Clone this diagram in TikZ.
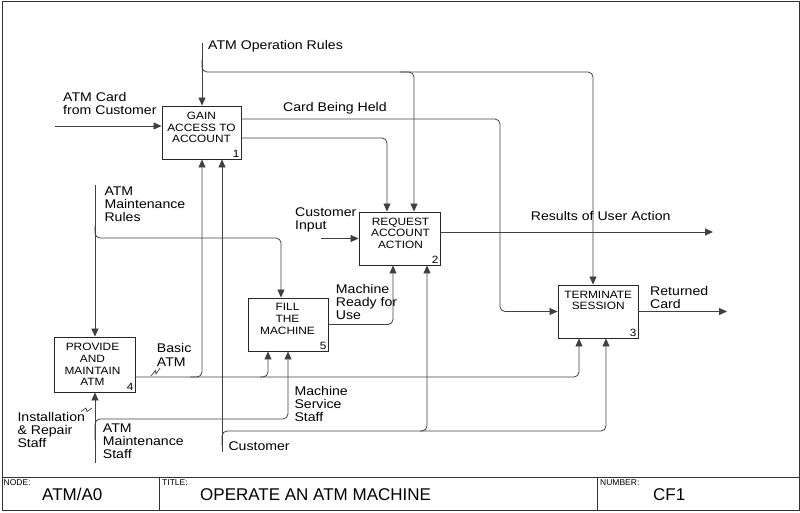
\documentclass[tikz,border=0pt]{standalone}
\usepackage{fontspec}
\setmainfont{Liberation Sans}[FakeStretch=1.12]
\newfontfamily\tbfont{Liberation Sans}
\usetikzlibrary{arrows.meta}
\begin{document}
\begin{tikzpicture}[x=1pt,y=-1pt,
 line/.style={draw=black!75, line width=0.8pt, rounded corners=5pt},
 arr/.style={line, -{Triangle[length=8pt,width=7pt]}},
 squig/.style={draw=black!75, line width=0.7pt},
 proc/.style={draw=black!85, line width=0.9pt, inner sep=0pt},
 boxtext/.style={font=\fontsize{10.6}{11.7}\selectfont, align=center, inner sep=0pt, anchor=north},
 numtext/.style={font=\fontsize{10.5}{12}\selectfont, inner sep=1.8pt, anchor=south east},
 lbl/.style={font=\fontsize{12.6}{13.2}\selectfont, align=left, inner sep=0pt, anchor=north west},
 lbl1/.style={font=\fontsize{12.6}{13.2}\selectfont, inner sep=0pt, anchor=base west},
 tbsmall/.style={font=\tbfont\fontsize{8.5}{9}\selectfont, inner sep=0pt, anchor=north west},
 tbbig/.style={font=\tbfont\fontsize{17}{18}\selectfont, inner sep=0pt, anchor=base west}]
\useasboundingbox (0,0) rectangle (800,512);
% frame and title block
\draw[black!80, line width=1pt] (2,1) rectangle (799,510);
\draw[black!80, line width=1pt] (2,477) -- (799,477);
\draw[black!80, line width=1pt] (159,477) -- (159,510);
\draw[black!80, line width=1pt] (597,477) -- (597,510);
\node[tbsmall] (tnode) at (3.5,479) {NODE:};
\node[tbbig] (tnodev) at (42,500) {ATM/A0};
\node[tbsmall] (ttitle) at (162,479) {TITLE:};
\node[tbbig] (ttitlev) at (200,500) {OPERATE AN ATM MACHINE};
\node[tbsmall] (tnum) at (600,479) {NUMBER:};
\node[tbbig] (tnumv) at (653,500) {CF1};

% activity boxes
\node[proc, minimum width=79pt, minimum height=53pt] (b1) at (201.5,132.5) {};
\node[proc, minimum width=81pt, minimum height=53pt] (b2) at (399.5,238.5) {};
\node[proc, minimum width=80pt, minimum height=53pt] (b3) at (598,311.5) {};
\node[proc, minimum width=81pt, minimum height=55pt] (b4) at (94.5,364.5) {};
\node[proc, minimum width=80pt, minimum height=53pt] (b5) at (288,324.5) {};
\node[boxtext] (b1t) at (201.5,111.7) {GAIN\\ACCESS TO\\ACCOUNT};
\node[boxtext] (b2t) at (400.5,217.4) {REQUEST\\ACCOUNT\\ACTION};
\node[boxtext] (b3t) at (598.2,290.7) {TERMINATE\\SESSION};
\node[boxtext] (b4t) at (92.5,343.1) {PROVIDE\\AND\\MAINTAIN\\ATM};
\node[boxtext] (b5t) at (287.5,303.1) {FILL\\THE\\MACHINE};
\node[numtext] (b1n) at (b1.south east) {1};
\node[numtext] (b2n) at (b2.south east) {2};
\node[numtext] (b3n) at (b3.south east) {3};
\node[numtext] (b4n) at (b4.south east) {4};
\node[numtext] (b5n) at (b5.south east) {5};

% free ends
\coordinate (opr) at (202,43);
\coordinate (cardin) at (55,126);
\coordinate (cin) at (321,238.5);
\coordinate (res) at (713,232);
\coordinate (ret) at (727,311.5);
\coordinate (mr) at (95,185);
\coordinate (cust) at (222,452);
\coordinate (ms) at (95,463);

% ATM Operation Rules
\draw[arr] (opr) -- (opr |- b1.north);
\draw[arr] (202,60) |- (593,72) -- (b3.north -| 593,0);
\draw[arr] (400,72) -| (b2.north -| 414,0);
% ATM Card from Customer
\draw[arr] (cardin) -- (cardin -| b1.west);
% Card Being Held
\draw[arr] (b1.east |- 0,119) -| (500,311.5) -- (b3.west);
% GAIN -> REQUEST
\draw[arr] (b1.east |- 0,138) -| (b2.north -| 387,0);
% Customer Input
\draw[arr] (cin) -- (cin -| b2.west);
% Results of User Action
\draw[arr] (b2.east |- res) -- (res);
% Returned Card
\draw[arr] (b3.east) -- (ret);
% ATM Maintenance Rules
\draw[arr] (mr) -- (mr |- b4.north);
\draw[arr] (95,226) |- (281,238) -- (b5.north -| 281,0);
% Machine Ready for Use
\draw[arr] (b5.east) -| (b2.south -| 393,0);
% Basic ATM
\draw[arr] (b4.east |- 0,377) -| (b1.south -| 202,0);
\draw[arr] (190,377) -| (b5.south -| 268,0);
\draw[arr] (260,377) -| (b3.south -| 579,0);
% Customer
\draw[arr] (cust) -- (cust |- b1.south);
\draw[arr] (222,445) |- (427,431) -- (b2.south -| 427,0);
\draw[arr] (420,431) -| (b3.south -| 606,0);
% ATM Maintenance Staff
\draw[arr] (ms) -- (ms |- b4.south);
\draw[arr] (95,440) |- (288,419) -- (b5.south -| 288,0);

% squiggles
\draw[squig] (151,376) -- (155.5,370.5) -- (156,374) -- (160,368);
\draw[squig] (81,411.5) -- (86,408) -- (87,411.5) -- (92,408);

% labels
\node[lbl1] (loper) at (208,49.5) {ATM Operation Rules};
\node[lbl] (lcard) at (63,91.7) {ATM Card\\from Customer};
\node[lbl1] (lheld) at (283,111.5) {Card Being Held};
\node[lbl] (lmr) at (104.3,186.7) {ATM\\Maintenance\\Rules};
\node[lbl] (lcin) at (295,207.7) {Customer\\Input};
\node[lbl1] (lres) at (530.7,220.7) {Results of User Action};
\node[lbl] (lready) at (335.7,283.7) {Machine\\Ready for\\Use};
\node[lbl] (lret) at (650,286) {Returned\\Card};
\node[lbl, font=\fontsize{12.6}{14.3}\selectfont] (lbasic) at (156.7,342.7) {Basic\\ATM};
\node[lbl] (linst) at (17.3,411.7) {Installation\\\& Repair\\Staff};
\node[lbl] (lms) at (102.7,423.7) {ATM\\Maintenance\\Staff};
\node[lbl] (lsvc) at (294.3,386) {Machine\\Service\\Staff};
\node[lbl1] (lcust) at (228.3,450.7) {Customer};
\end{tikzpicture}
\end{document}
